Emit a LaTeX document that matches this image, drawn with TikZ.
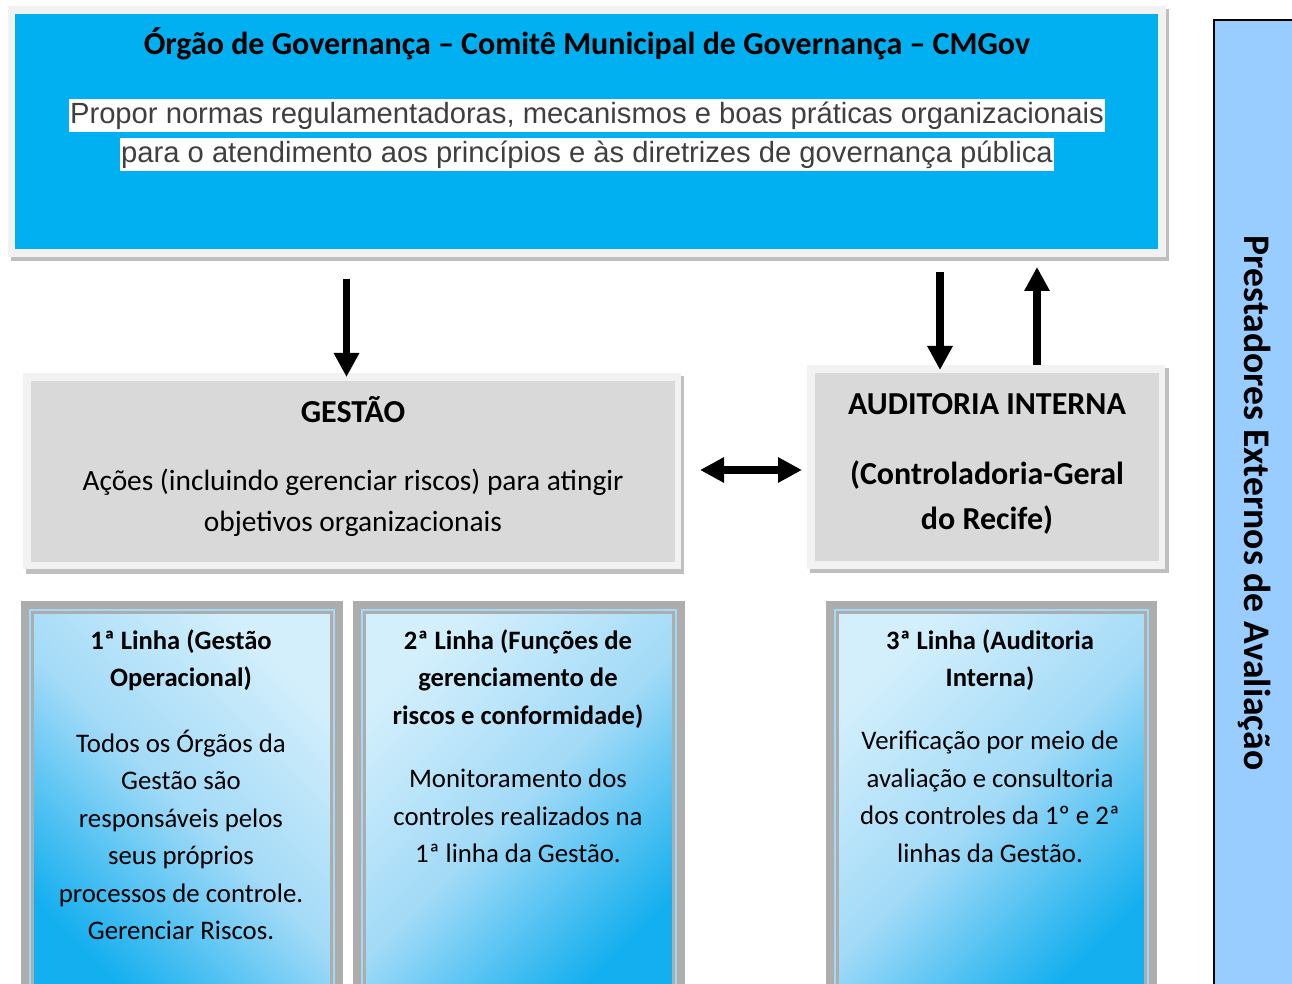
\documentclass[tikz,border=0pt]{standalone}
\usepackage{fontspec}
\setmainfont{Carlito}
\newfontfamily\arialfont{Liberation Sans}
\usetikzlibrary{arrows.meta}

\definecolor{azulcmgov}{HTML}{00B0F0}
\definecolor{moldura}{HTML}{F2F2F2}
\definecolor{sombra}{HTML}{BFBFBF}
\definecolor{cinzacaixa}{HTML}{D9D9D9}
\definecolor{azulprest}{HTML}{99CCFF}
\definecolor{bordalinha}{HTML}{ADADAD}
\definecolor{faixalinha}{HTML}{A3D9F6}
\definecolor{azulclaro}{HTML}{D3EFFC}
\definecolor{azulmedio}{HTML}{A2DAF7}
\definecolor{azulforte}{HTML}{14AFEE}
\definecolor{textocinza}{HTML}{3F3F3F}

\tikzset{
  seta/.style = {line width = 3.75pt, -{Triangle[length = 12pt, width = 12pt]}},
  setadupla/.style = {line width = 3.75pt,
    {Triangle[length = 12pt, width = 12pt]}-{Triangle[length = 12pt, width = 12pt]}},
  titulo/.style = {font = \bfseries\fontsize{16}{19}\selectfont, inner sep = 0pt},
  destaque/.style = {font = \arialfont\fontsize{14.6}{17}\selectfont, text = textocinza,
    fill = white, inner xsep = 0.5pt, inner ysep = 0pt, text height = 12pt, text depth = 4.5pt},
  corpo/.style = {font = \fontsize{14.7}{20.5}\selectfont, align = center, inner sep = 0pt},
  auditexto/.style = {font = \bfseries\fontsize{16}{22.5}\selectfont, align = center, inner sep = 0pt},
  linhatitulo/.style = {font = \bfseries\fontsize{13.3}{18.75}\selectfont, align = center, inner sep = 0pt},
  linhacorpo/.style = {font = \fontsize{13.4}{18.75}\selectfont, align = center, inner sep = 0pt},
  caixalinha/.style = {draw = bordalinha, line width = 1.5pt, top color = azulclaro,
    bottom color = azulforte, middle color = azulmedio}
}

\begin{document}
\begin{tikzpicture}[x = 0.5pt, y = -0.5pt]
  \useasboundingbox (0, 0) rectangle (1292, 984);
  \clip (0, 0) rectangle (1292, 984);

  \fill[sombra] (11, 9) rectangle (1169, 261);
  \fill[moldura] (8, 6) rectangle (1166, 257);
  \fill[azulcmgov] (15, 14) rectangle (1158, 249);
  \node[titulo] (cmgov) at (587, 44)
    {Órgão de Governança – Comitê Municipal de Governança – CMGov};
  \node[destaque] (propor1) at (587, 116)
    {Propor normas regulamentadoras, mecanismos e boas práticas organizacionais};
  \node[destaque] (propor2) at (587, 155)
    {para o atendimento aos princípios e às diretrizes de governança pública};

  \fill[sombra] (26, 376) rectangle (684, 574);
  \fill[moldura] (23, 373) rectangle (681, 569);
  \fill[cinzacaixa] (31, 381) rectangle (675, 562);
  \node[titulo] (gestao) at (353, 410) {GESTÃO};
  \node[corpo] (gestaotexto) at (353, 503)
    {Ações (incluindo gerenciar riscos) para atingir\\objetivos organizacionais};

  \fill[sombra] (810, 368) rectangle (1169, 573);
  \fill[moldura] (807, 365) rectangle (1165, 569);
  \fill[cinzacaixa] (815, 373) rectangle (1159, 561);
  \node[titulo] (auditoria) at (987, 404) {AUDITORIA INTERNA};
  \node[auditexto] (controladoria) at (987, 498)
    {(Controladoria-Geral\\do Recife)};

  \foreach \xa/\xb/\ang in {21/343/-45, 353/685/45, 826/1157/45} {
    \fill[bordalinha] (\xa, 601) rectangle (\xb, 1000);
    \fill[faixalinha] (\xa + 8, 609) rectangle (\xb - 8, 1000);
    \shade[caixalinha, shading angle = \ang] (\xa + 11.5, 612.5) rectangle (\xb - 11.5, 1000);
  }

  \node[linhatitulo] (linha1) at (181, 660)
    {1ª Linha (Gestão\\Operacional)};
  \node[linhacorpo] (linha1texto) at (181, 835)
    {Todos os Órgãos da\\Gestão são\\responsáveis pelos\\seus próprios\\processos de controle.\\Gerenciar Riscos.};
  \node[linhatitulo] (linha2) at (518, 679)
    {2ª Linha (Funções de\\gerenciamento de\\riscos e conformidade)};
  \node[linhacorpo] (linha2texto) at (518, 816)
    {Monitoramento dos\\controles realizados na\\1ª linha da Gestão.};
  \node[linhatitulo] (linha3) at (990, 660)
    {3ª Linha (Auditoria\\Interna)};
  \node[linhacorpo] (linha3texto) at (990, 797)
    {Verificação por meio de\\avaliação e consultoria\\dos controles da 1º e 2ª\\linhas da Gestão.};

  \draw[draw = black, line width = 0.75pt, fill = azulprest] (1214, 20) rectangle (1300, 1000);
  \node[rotate = -90, font = \bfseries\fontsize{18.8}{22}\selectfont] (prestadores) at (1255, 503)
    {Prestadores Externos de Avaliação};

  \coordinate (gestaoini) at (346.5, 279);
  \coordinate (gestaofim) at (346.5, 377);
  \coordinate (auditini) at (940, 272);
  \coordinate (auditfim) at (940, 370);
  \coordinate (retornoini) at (1037, 365);
  \coordinate (retornofim) at (1037, 267);
  \coordinate (trocaesq) at (700, 470);
  \coordinate (trocadir) at (802, 470);

  \draw[seta] (gestaoini) -- (gestaofim);
  \draw[seta] (auditini) -- (auditfim);
  \draw[seta] (retornoini) -- (retornofim);
  \draw[setadupla] (trocaesq) -- (trocadir);
\end{tikzpicture}
\end{document}
